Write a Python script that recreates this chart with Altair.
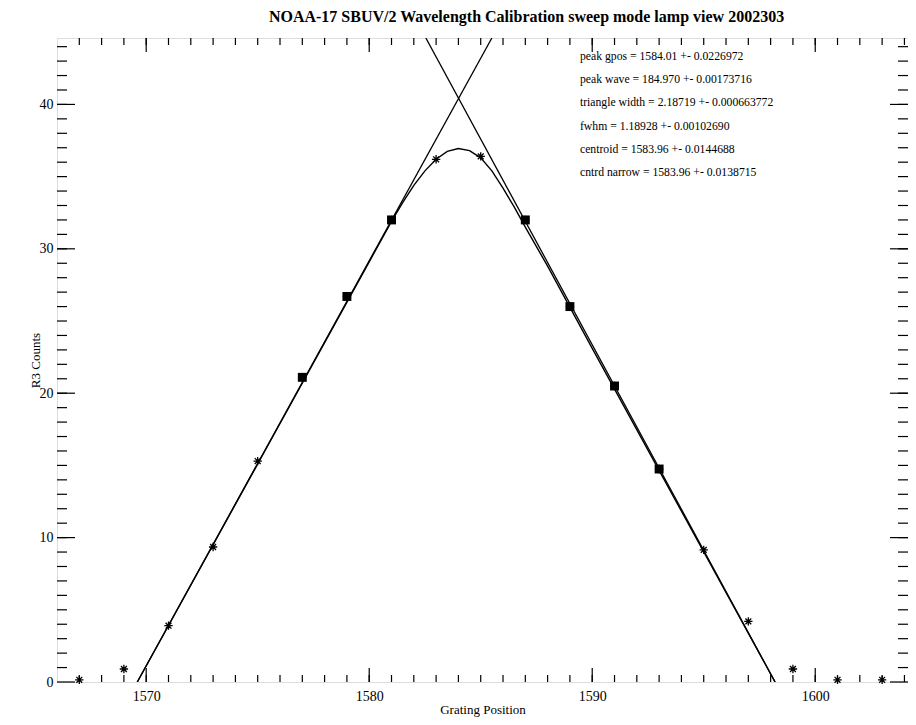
import altair as alt
import pandas as pd

# ---- data ----
grating_pos = [1567, 1569, 1571, 1573, 1575, 1577, 1579, 1581, 1583, 1585,
               1587, 1589, 1591, 1593, 1595, 1597, 1599, 1601, 1603]
r3_counts = [0.15, 0.9, 3.9, 9.35, 15.3, 21.1, 26.7, 32.0, 36.2, 36.4,
             32.0, 26.0, 20.5, 14.75, 9.15, 4.2, 0.9, 0.15, 0.15]

fit_pos = [1577, 1579, 1581, 1587, 1589, 1591, 1593]
fit_counts = [21.1, 26.7, 32.0, 32.0, 26.0, 20.5, 14.75]

left_line_x = [1569.6, 1585.5]
left_line_y = [0.0, 44.6]
right_line_x = [1582.54, 1598.2]
right_line_y = [44.6, 0.0]

curve_x = [1569.6, 1575, 1580, 1581, 1581.5, 1582, 1582.5, 1583, 1583.5, 1584,
           1584.5, 1585, 1585.5, 1586, 1586.5, 1587, 1588, 1590, 1598.2]
curve_y = [0.0, 15.1, 29.1, 31.9, 33.2, 34.4, 35.4, 36.2, 36.75, 36.95,
           36.8, 36.3, 35.4, 34.2, 32.9, 31.5, 28.8, 23.1, 0.0]

stats_lines = [
    "peak gpos = 1584.01 +- 0.0226972",
    "peak wave = 184.970 +- 0.00173716",
    "triangle width = 2.18719 +- 0.000663772",
    "fwhm = 1.18928 +- 0.00102690",
    "centroid = 1583.96 +- 0.0144688",
    "cntrd narrow = 1583.96 +- 0.0138715",
]

x_major = [1570, 1580, 1590, 1600]
x_minor = list(range(1567, 1605))
y_major = [0, 10, 20, 30, 40]
y_minor = list(range(1, 45))

TITLE = "NOAA-17 SBUV/2 Wavelength Calibration sweep mode lamp view 2002303"

W, H = 851, 644
XDOM = [1566, 1604.16]
YDOM = [0, 44.6]
FONT = "Liberation Serif"

xs = alt.Scale(domain=XDOM, nice=False, zero=False)
ys = alt.Scale(domain=YDOM, nice=False, zero=False)

pts = pd.DataFrame({"x": grating_pos, "y": r3_counts})
fit = pd.DataFrame({"x": fit_pos, "y": fit_counts})
ll = pd.DataFrame({"x": left_line_x, "y": left_line_y})
rl = pd.DataFrame({"x": right_line_x, "y": right_line_y})
cv = pd.DataFrame({"x": curve_x, "y": curve_y})

xaxis = alt.Axis(values=x_major, format="d", ticks=False, domain=False, grid=False,
                 labelFont=FONT, labelFontSize=14, labelColor="black", labelPadding=7,
                 title="Grating Position", titleFont=FONT, titleFontSize=13,
                 titleFontWeight="normal", titleColor="black", titlePadding=0)
yaxis = alt.Axis(values=y_major, format="d", ticks=False, domain=False, grid=False,
                 labelFont=FONT, labelFontSize=14, labelColor="black", labelPadding=4,
                 title="R3 Counts", titleFont=FONT, titleFontSize=13,
                 titleFontWeight="normal", titleColor="black", titlePadding=-3)

base_pts = alt.Chart(pts).mark_point(
    shape="M-1,0L1,0M0,-1L0,1M-0.7,-0.7L0.7,0.7M-0.7,0.7L0.7,-0.7",
    filled=False, stroke="black", strokeWidth=1.3, size=70, opacity=1
).encode(x=alt.X("x:Q", scale=xs, axis=xaxis), y=alt.Y("y:Q", scale=ys, axis=yaxis))

sq = alt.Chart(fit).mark_square(color="black", size=80, opacity=1).encode(
    x=alt.X("x:Q", scale=xs), y=alt.Y("y:Q", scale=ys))

def line(df, sw=1.3):
    return alt.Chart(df).mark_line(color="black", strokeWidth=sw, clip=True).encode(
        x=alt.X("x:Q", scale=xs), y=alt.Y("y:Q", scale=ys), order="x:Q")

text = alt.Chart(pd.DataFrame({"x": [1589.45], "y": [43.7]})).mark_text(
    align="left", baseline="top", font=FONT, fontSize=11.7, lineHeight=23.2, color="black"
).encode(x=alt.X("x:Q", scale=xs), y=alt.Y("y:Q", scale=ys), text=alt.value(stats_lines))

def xticks(vals, length):
    df = pd.DataFrame({"x": vals})
    bot = alt.Chart(df).mark_rule(color="black", strokeWidth=1.2).encode(
        x=alt.X("x:Q", scale=xs), y=alt.value(H), y2=alt.value(H - length))
    top = alt.Chart(df).mark_rule(color="black", strokeWidth=1.2).encode(
        x=alt.X("x:Q", scale=xs), y=alt.value(0), y2=alt.value(length))
    return bot + top

def yticks(vals, length):
    df = pd.DataFrame({"y": vals})
    lft = alt.Chart(df).mark_rule(color="black", strokeWidth=1.2).encode(
        y=alt.Y("y:Q", scale=ys), x=alt.value(0), x2=alt.value(length))
    rgt = alt.Chart(df).mark_rule(color="black", strokeWidth=1.2).encode(
        y=alt.Y("y:Q", scale=ys), x=alt.value(W), x2=alt.value(W - length))
    return lft + rgt

chart = alt.layer(
    base_pts, line(ll), line(rl), line(cv, 1.4), sq, text,
    xticks(x_minor, 7), xticks(x_major, 14), yticks(y_minor, 10), yticks(y_major, 18),
).properties(
    width=W, height=H,
    title=alt.TitleParams(TITLE, font=FONT, fontSize=16, fontWeight="bold",
                          color="black", offset=12, anchor="middle", dx=44),
    autosize=alt.AutoSizeParams(type="none"),
    padding={"left": 49, "top": 30, "right": 0, "bottom": 35},
).configure_view(stroke="black", strokeWidth=1.5).configure(background="white")

chart.save("out.html", embed_options={"renderer": "svg", "actions": False})
